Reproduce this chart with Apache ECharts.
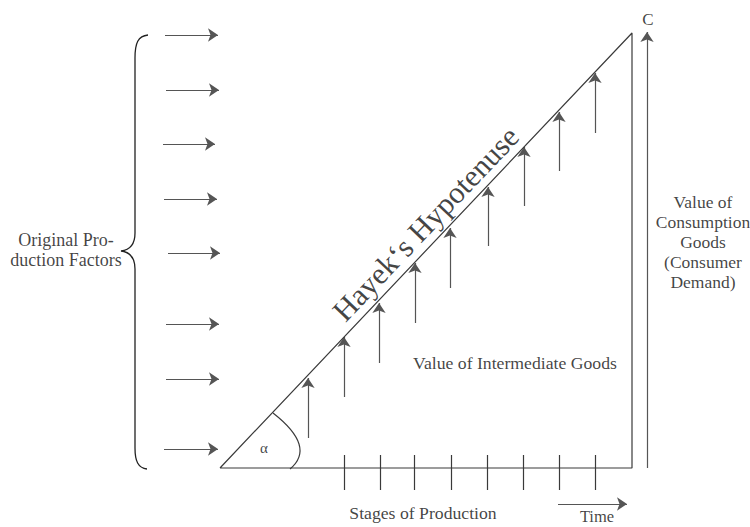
<!DOCTYPE html>
<html>
<head>
<meta charset="utf-8">
<script src="https://cdn.jsdelivr.net/npm/echarts@6/dist/echarts.min.js"></script>
<style>
html,body{margin:0;padding:0;background:#fff;}
#chart{width:750px;height:527px;}
</style>
</head>
<body>
<div id="chart"></div>
<script>
const triangleCorners = [[220, 468], [632, 33], [632, 468], [220, 468]];
const stageTimes = [308, 344, 379, 415, 450, 488, 524, 559, 595];
const stageValueTop = [378, 337, 303, 263, 228, 187, 147, 112, 73];
const stageValueBottom = [438, 397, 363, 323, 288, 246, 206, 171, 133];
const tickTimes = [344, 380, 414, 451, 487, 523, 559, 595];
const tickRange = [455, 490];
const factorRows = [35, 90, 144, 199, 253, 324, 379, 449];
const factorStart = [165, 166, 163, 164, 168, 166, 166, 164];
const factorEnd = [218, 219, 215, 217, 220, 219, 219, 218];
const consumerArrow = [[647, 468], [647, 32]];
const timeArrow = [[558, 504], [627, 504]];
// brace: [top end, vertical start, tip, vertical end, bottom end]
const bracePoints = [[148, 35], [135, 58], [121, 251], [135, 448], [147, 469]];
// angle arc: start on hypotenuse, bulge, end on base
const anglePoints = [[273, 413], [299, 444], [290, 469]];

const labels = [
  { text: 'C', pos: [648, 19], size: 17 },
  { text: 'Original Pro-\nduction Factors', pos: [66, 250], size: 18 },
  { text: 'Value of\nConsumption\nGoods\n(Consumer\nDemand)', pos: [703, 242], size: 17.5 },
  { text: 'Value of Intermediate Goods', pos: [515, 363], size: 17.7 },
  { text: 'Stages of Production', pos: [423, 513], size: 17.7 },
  { text: 'Time', pos: [597, 516], size: 16.5 },
  { text: 'α', pos: [264, 448], size: 15 },
  { text: 'Hayek‘s Hypotenuse', pos: [426, 224], size: 30.5, rotate: 46.5 }
];

const lineColor = '#3a3a3a';
const arrowColor = '#555';
const font = '"Liberation Serif", "Times New Roman", serif';

const chart = echarts.init(document.getElementById('chart'), null, { renderer: 'svg' });

const stageArrows = stageTimes.map((t, i) => ({ coords: [[t, stageValueBottom[i]], [t, stageValueTop[i]]] }));
const factorArrows = factorRows.map((y, i) => ({ coords: [[factorStart[i], y], [factorEnd[i], y]] }));
const ticks = tickTimes.map(t => ({ coords: [[t, tickRange[0]], [t, tickRange[1]]] }));

chart.setOption({
  animation: false,
  backgroundColor: '#fff',
  grid: { left: 0, right: 0, top: 0, bottom: 0 },
  xAxis: { type: 'value', min: 0, max: 750, show: false },
  yAxis: { type: 'value', min: 0, max: 527, inverse: true, show: false },
  series: [
    {
      type: 'line',
      data: triangleCorners,
      symbol: 'none',
      lineStyle: { color: lineColor, width: 1.2 },
      silent: true
    },
    {
      type: 'lines',
      coordinateSystem: 'cartesian2d',
      data: stageArrows.concat(factorArrows, [{ coords: consumerArrow }, { coords: timeArrow }]),
      symbol: ['none', 'arrow'],
      symbolSize: [7, 10],
      lineStyle: { color: arrowColor, width: 1.2, opacity: 1 },
      itemStyle: { color: '#111' },
      silent: true
    },
    {
      type: 'lines',
      coordinateSystem: 'cartesian2d',
      data: ticks,
      symbol: 'none',
      lineStyle: { color: lineColor, width: 1.2, opacity: 1 },
      silent: true
    },
    {
      type: 'custom',
      coordinateSystem: 'cartesian2d',
      data: [[0, 0]],
      silent: true,
      renderItem: function (params, api) {
        const b = bracePoints.map(p => api.coord(p));
        const [p0, p1, p2, p3, p4] = b;
        const braceD =
          'M' + p0[0] + ' ' + p0[1] +
          ' C' + (p1[0] + 3) + ' ' + (p0[1] + 1) + ' ' + p1[0] + ' ' + (p0[1] + 8) + ' ' + p1[0] + ' ' + p1[1] +
          ' L' + p1[0] + ' ' + (p2[1] - 18) +
          ' C' + p1[0] + ' ' + (p2[1] - 6) + ' ' + (p2[0] + 8) + ' ' + (p2[1] - 1) + ' ' + p2[0] + ' ' + p2[1] +
          ' C' + (p2[0] + 8) + ' ' + (p2[1] + 1) + ' ' + p3[0] + ' ' + (p2[1] + 6) + ' ' + p3[0] + ' ' + (p2[1] + 18) +
          ' L' + p3[0] + ' ' + p3[1] +
          ' C' + p3[0] + ' ' + (p4[1] - 8) + ' ' + (p3[0] + 3) + ' ' + (p4[1] - 1) + ' ' + p4[0] + ' ' + p4[1];
        const a = anglePoints.map(p => api.coord(p));
        const c = [2 * a[1][0] - 0.5 * (a[0][0] + a[2][0]), 2 * a[1][1] - 0.5 * (a[0][1] + a[2][1])];
        const arcD = 'M' + a[0][0] + ' ' + a[0][1] + ' Q' + c[0] + ' ' + c[1] + ' ' + a[2][0] + ' ' + a[2][1];
        return {
          type: 'group',
          children: [
            { type: 'path', shape: { pathData: braceD }, style: { fill: 'none', stroke: '#222', lineWidth: 1.3 } },
            { type: 'path', shape: { pathData: arcD }, style: { fill: 'none', stroke: lineColor, lineWidth: 1.2 } }
          ]
        };
      }
    },
    {
      type: 'scatter',
      symbolSize: 0,
      silent: true,
      data: labels.map(l => ({
        value: l.pos,
        label: {
          show: true,
          position: 'inside',
          formatter: l.text,
          fontFamily: font,
          fontSize: l.size,
          lineHeight: l.size > 20 ? Math.round(l.size * 1.2) : 20,
          color: '#111',
          align: 'center',
          verticalAlign: 'middle',
          rotate: l.rotate || 0
        }
      }))
    }
  ]
});
</script>
</body>
</html>
